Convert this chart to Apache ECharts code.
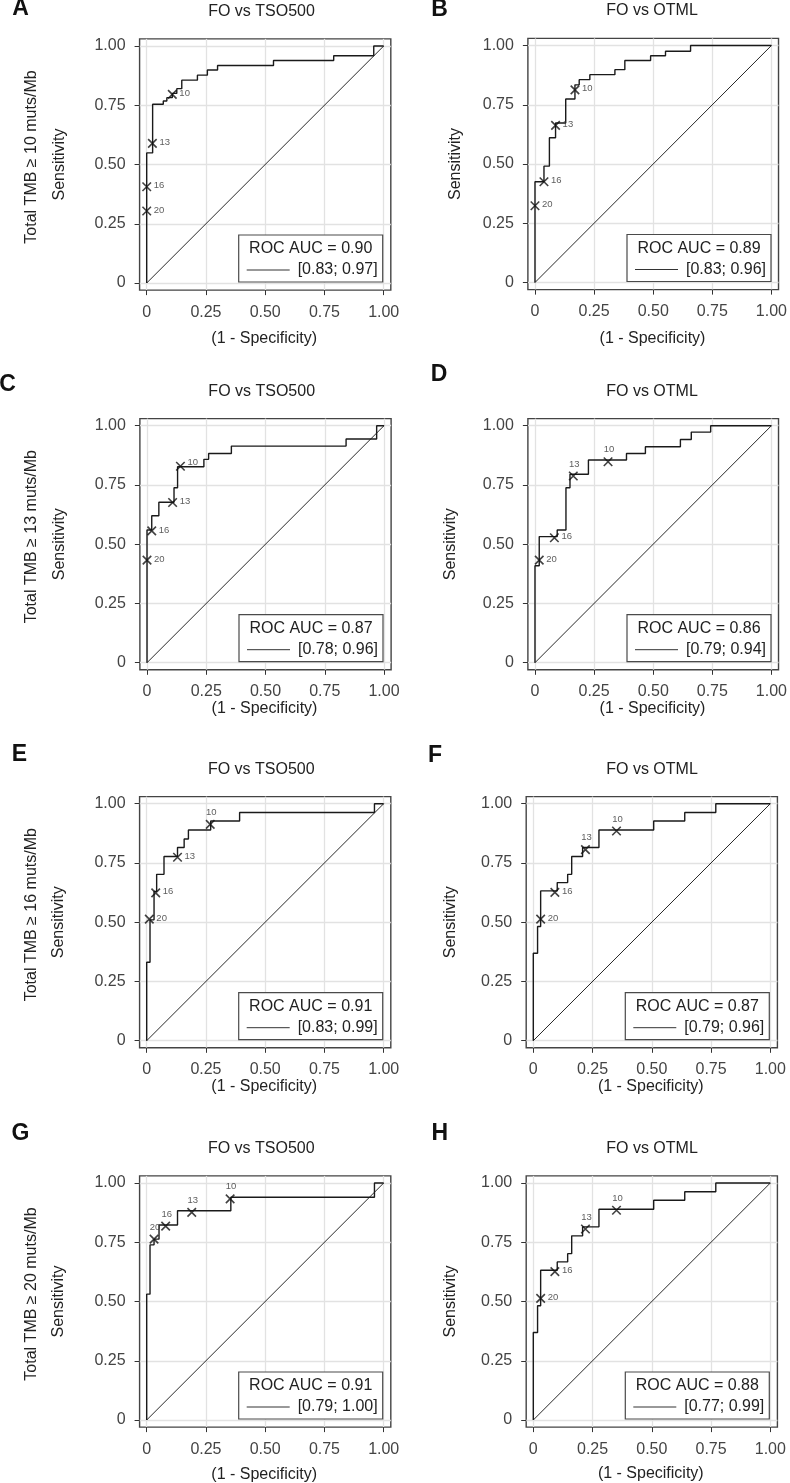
<!DOCTYPE html>
<html>
<head>
<meta charset="utf-8">
<title>ROC curves FO vs TSO500 / OTML</title>
<script src="https://cdn.jsdelivr.net/npm/echarts@6/dist/echarts.min.js"></script>
<style>
  html, body { margin: 0; padding: 0; background: #fff; }
  #chart { width: 790px; height: 1483px; }
</style>
</head>
<body>
<div id="chart"></div>
<script>
// ---- data ----
const tickValues = [0, 0.25, 0.5, 0.75, 1];
const tickLabels = ['0', '0.25', '0.50', '0.75', '1.00'];

const panelLetters = ['A', 'B', 'C', 'D', 'E', 'F', 'G', 'H'];
const panelTitles = ['FO vs TSO500', 'FO vs OTML', 'FO vs TSO500', 'FO vs OTML',
  'FO vs TSO500', 'FO vs OTML', 'FO vs TSO500', 'FO vs OTML'];
const tmbThresholds = [10, 13, 16, 20];   // one per row
const cutoffLabels = ['10', '13', '16', '20'];
const aucLabels = ['0.90', '0.89', '0.87', '0.86', '0.91', '0.87', '0.91', '0.88'];
const ciLabels = ['[0.83; 0.97]', '[0.83; 0.96]', '[0.78; 0.96]', '[0.79; 0.94]',
  '[0.83; 0.99]', '[0.79; 0.96]', '[0.79; 1.00]', '[0.77; 0.99]'];

const chanceLine = [[0, 0], [1, 1]];

// ROC step points (1 - specificity, sensitivity)
const fprA = [0, 0, 0.025, 0.07, 0.085, 0.108, 0.127, 0.148, 0.214, 0.256, 0.299, 0.535, 0.789, 0.958, 1];
const tprA = [0, 0.549, 0.754, 0.768, 0.782, 0.80, 0.82, 0.856, 0.877, 0.899, 0.918, 0.939, 0.959, 1, 1];
const cutXA = [0.108, 0.024, 0, 0];
const cutYA = [0.796, 0.589, 0.406, 0.304];

const fprB = [0, 0, 0.038, 0.061, 0.087, 0.13, 0.169, 0.187, 0.232, 0.338, 0.38, 0.489, 0.552, 0.658, 1];
const tprB = [0, 0.425, 0.491, 0.611, 0.673, 0.774, 0.834, 0.856, 0.877, 0.898, 0.937, 0.957, 0.976, 1, 1];
const cutXB = [0.169, 0.087, 0.038, 0];
const cutYB = [0.813, 0.663, 0.425, 0.324];

const fprC = [0, 0, 0.02, 0.05, 0.114, 0.129, 0.24, 0.26, 0.356, 0.84, 0.969, 1];
const tprC = [0, 0.56, 0.62, 0.677, 0.738, 0.827, 0.858, 0.883, 0.914, 0.944, 1, 1];
const cutXC = [0.141, 0.108, 0.02, 0];
const cutYC = [0.829, 0.676, 0.556, 0.433];

const fprD = [0, 0, 0.018, 0.094, 0.131, 0.148, 0.226, 0.387, 0.467, 0.615, 0.661, 0.743, 1];
const tprD = [0, 0.409, 0.532, 0.56, 0.738, 0.795, 0.855, 0.883, 0.911, 0.942, 0.973, 1, 1];
const cutXD = [0.309, 0.162, 0.082, 0.018];
const cutYD = [0.848, 0.788, 0.527, 0.433];

const fprE = [0, 0, 0.014, 0.031, 0.042, 0.073, 0.13, 0.158, 0.176, 0.27, 0.392, 0.961, 1];
const tprE = [0, 0.331, 0.51, 0.63, 0.702, 0.777, 0.815, 0.851, 0.889, 0.927, 0.963, 1, 1];
const cutXE = [0.268, 0.13, 0.038, 0.011];
const cutYE = [0.913, 0.774, 0.624, 0.513];

const fprF = [0, 0, 0.018, 0.031, 0.101, 0.145, 0.162, 0.208, 0.277, 0.508, 0.639, 0.77, 1];
const tprF = [0, 0.369, 0.482, 0.632, 0.667, 0.702, 0.777, 0.815, 0.889, 0.927, 0.963, 1, 1];
const cutXF = [0.351, 0.22, 0.091, 0.031];
const cutYF = [0.885, 0.806, 0.626, 0.513];

const fprG = [0, 0, 0.014, 0.031, 0.052, 0.13, 0.355, 0.961, 1];
const tprG = [0, 0.531, 0.739, 0.763, 0.823, 0.883, 0.94, 1, 1];
const cutXG = [0.352, 0.19, 0.08, 0.031];
const cutYG = [0.933, 0.876, 0.818, 0.763];

const fprH = [0, 0, 0.018, 0.031, 0.101, 0.145, 0.162, 0.208, 0.277, 0.508, 0.639, 0.77, 1];
const tprH = [0, 0.369, 0.482, 0.632, 0.667, 0.702, 0.777, 0.815, 0.889, 0.927, 0.963, 1, 1];
const cutXH = [0.351, 0.22, 0.091, 0.031];
const cutYH = [0.885, 0.806, 0.626, 0.513];

// ---- layout / style ----
const S = 237;      // px per unit
const PAD = 0.03;   // axis expansion each side
const FONT = '"Liberation Sans", Arial, Helvetica, sans-serif';

// x0: pixel of fpr=0, y1: pixel of tpr=1
const layout = [
  { x0: 146.7, y1: 46,    lx: 20.5,  ly: 8.5,    sensX: 60,    xnameDy: 292.5, titleX: 261.5 },
  { x0: 535,   y1: 45.5,  lx: 439.5, ly: 10,     sensX: 455.8, xnameDy: 292.8, titleX: 652 },
  { x0: 147,   y1: 425.7, lx: 7.5,   ly: 385,    sensX: 60,    xnameDy: 282.6, titleX: 261.7 },
  { x0: 535,   y1: 425.7, lx: 439,   ly: 375,    sensX: 450.5, xnameDy: 282.6, titleX: 652 },
  { x0: 146.7, y1: 803.7, lx: 19.5,  ly: 755,    sensX: 58.5,  xnameDy: 283,   titleX: 261.3 },
  { x0: 533.3, y1: 803.7, lx: 435,   ly: 755.8,  sensX: 450.5, xnameDy: 283,   titleX: 652 },
  { x0: 146.7, y1: 1183,  lx: 20.5,  ly: 1133.3, sensX: 58.5,  xnameDy: 291.5, titleX: 261.3 },
  { x0: 533.3, y1: 1183,  lx: 439.7, ly: 1134,   sensX: 450.5, xnameDy: 291,   titleX: 652 }
];

// where the small cutoff labels sit (order 10, 13, 16, 20)
const R = 'right', T = 'top';
const labelSides = [
  [R, R, R, R], [R, R, R, R], ['rightUp', R, R, R], [T, T, R, R],
  [T, R, R, R], [T, T, R, R], [T, T, T, T], [T, T, R, R]
];

const curves = [
  [fprA, tprA, cutXA, cutYA], [fprB, tprB, cutXB, cutYB],
  [fprC, tprC, cutXC, cutYC], [fprD, tprD, cutXD, cutYD],
  [fprE, tprE, cutXE, cutYE], [fprF, tprF, cutXF, cutYF],
  [fprG, tprG, cutXG, cutYG], [fprH, tprH, cutXH, cutYH]
];

function tickText (v) {
  let k = 0;
  tickValues.forEach((t, i) => { if (Math.abs(t - v) < Math.abs(tickValues[k] - v)) k = i; });
  return tickLabels[k];
}

function labelFor (side) {
  if (side === T) return { position: 'top', distance: 2, offset: [1, 0] };
  if (side === 'rightUp') return { position: 'right', distance: 2, offset: [0, -4] };
  return { position: 'right', distance: 2, offset: [0, -1] };
}

const grid = [], xAxis = [], yAxis = [], series = [], graphic = [];

layout.forEach((p, i) => {
  const [fpr, tpr, cx, cy] = curves[i];
  const pad = PAD * S;

  grid.push({
    left: p.x0 - pad, top: p.y1 - pad,
    width: S * (1 + 2 * PAD), height: S * (1 + 2 * PAD),
    show: true, borderColor: '#444', borderWidth: 1.4, backgroundColor: '#fff'
  });

  const axisCommon = {
    gridIndex: i, type: 'value', min: -PAD, max: 1 + PAD,
    axisLine: { show: false, onZero: false },
    axisTick: { show: true, customValues: tickValues, length: 5, lineStyle: { color: '#333', width: 1 } },
    axisLabel: { customValues: tickValues, formatter: tickText, fontSize: 16, fontFamily: FONT, color: '#444', margin: 14 },
    splitLine: { show: true, lineStyle: { color: '#e2e2e2', width: 1.3 } }
  };
  xAxis.push(Object.assign({}, axisCommon));
  yAxis.push(Object.assign({}, axisCommon));

  series.push({
    type: 'line', xAxisIndex: i, yAxisIndex: i, data: chanceLine,
    symbol: 'none', silent: true, lineStyle: { color: '#111', width: 0.9 }, z: 2
  });
  series.push({
    type: 'line', xAxisIndex: i, yAxisIndex: i, step: 'end',
    data: fpr.map((x, k) => [x, tpr[k]]),
    symbol: 'none', silent: true, lineStyle: { color: '#1a1a1a', width: 1.4 }, z: 3
  });
  series.push({
    type: 'scatter', xAxisIndex: i, yAxisIndex: i,
    symbol: 'path://M0 0L10 10M10 0L0 10', symbolSize: 8.5, silent: true, z: 4,
    itemStyle: { color: 'rgba(0,0,0,0)', borderColor: '#111', borderWidth: 1.6 },
    label: { show: true, formatter: '{b}', fontSize: 9.5, fontFamily: FONT, color: '#333' },
    data: cx.map((x, k) => ({
      value: [x, cy[k]], name: cutoffLabels[k],
      label: labelFor(labelSides[i][k])
    }))
  });

  // panel letter, title, axis names
  graphic.push({
    type: 'text', x: p.lx, y: p.ly, z: 100,
    style: { text: panelLetters[i], fontSize: 23, fontWeight: 'bold', fontFamily: FONT, fill: '#111',
      align: 'center', verticalAlign: 'middle', textAlign: 'center', textVerticalAlign: 'middle' }
  });
  graphic.push({
    type: 'text', x: p.titleX, y: p.y1 - 34.5, z: 100,
    style: { text: panelTitles[i], fontSize: 16, fontFamily: FONT, fill: '#222',
      align: 'center', verticalAlign: 'middle', textAlign: 'center', textVerticalAlign: 'middle' }
  });
  graphic.push({
    type: 'text', x: p.sensX, y: p.y1 + 118.5, rotation: Math.PI / 2, z: 100,
    style: { text: 'Sensitivity', fontSize: 16, fontFamily: FONT, fill: '#222',
      align: 'center', verticalAlign: 'middle', textAlign: 'center', textVerticalAlign: 'middle' }
  });
  if (i % 2 === 0) {
    graphic.push({
      type: 'text', x: 31.7, y: p.y1 + 111, rotation: Math.PI / 2, z: 100,
      style: { text: 'Total TMB \u2265 ' + tmbThresholds[i / 2] + ' muts/Mb', fontSize: 16, fontFamily: FONT, fill: '#222',
        align: 'center', verticalAlign: 'middle', textAlign: 'center', textVerticalAlign: 'middle' }
    });
  }
  graphic.push({
    type: 'text', x: p.x0 + 117.5, y: p.y1 + p.xnameDy, z: 100,
    style: { text: '(1 - Specificity)', fontSize: 16, fontFamily: FONT, fill: '#222',
      align: 'center', verticalAlign: 'middle', textAlign: 'center', textVerticalAlign: 'middle' }
  });

  // legend box
  const bx = p.x0 + 92, by = p.y1 + 189;
  graphic.push({
    type: 'rect', z: 100,
    shape: { x: bx, y: by, width: 144, height: 47 },
    style: { fill: '#fff', stroke: '#4a4a4a', lineWidth: 1.2 }
  });
  graphic.push({
    type: 'text', x: bx + 72, y: by + 14, z: 101,
    style: { text: 'ROC AUC = ' + aucLabels[i], fontSize: 16, fontFamily: FONT, fill: '#222',
      align: 'center', verticalAlign: 'middle', textAlign: 'center', textVerticalAlign: 'middle' }
  });
  graphic.push({
    type: 'line', z: 101,
    shape: { x1: bx + 8, y1: by + 35, x2: bx + 51, y2: by + 35 },
    style: { stroke: '#333', lineWidth: 1 }
  });
  graphic.push({
    type: 'text', x: bx + 139, y: by + 35, z: 101,
    style: { text: ciLabels[i], fontSize: 16, fontFamily: FONT, fill: '#222',
      align: 'right', verticalAlign: 'middle', textAlign: 'right', textVerticalAlign: 'middle' }
  });
});

const chart = echarts.init(document.getElementById('chart'));
chart.setOption({
  animation: false,
  backgroundColor: '#fff',
  grid, xAxis, yAxis, series, graphic
});
</script>
</body>
</html>
